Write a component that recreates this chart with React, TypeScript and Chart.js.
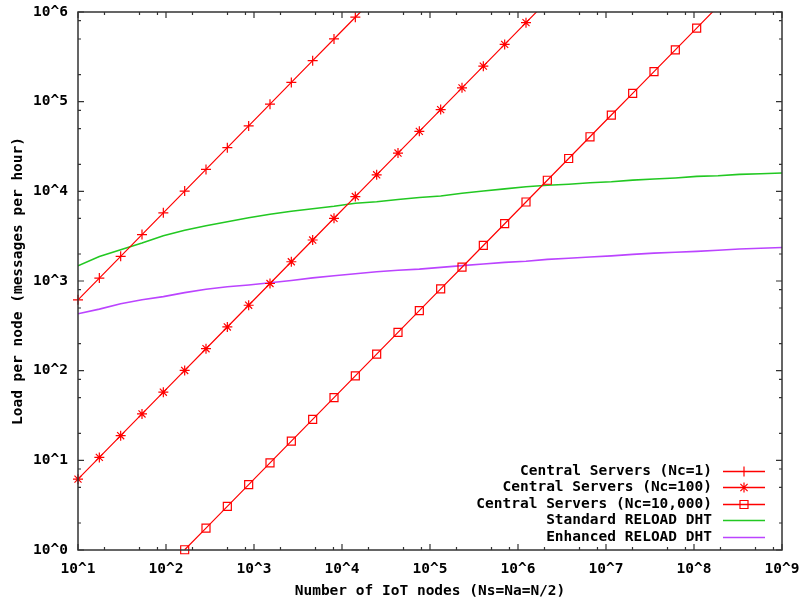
import React, { useEffect, useRef } from "react";
import { Chart, registerables } from "chart.js";

Chart.register(...registerables);

// Number of IoT nodes (sample positions along the x axis)
const nodes = [
  10, 17.48, 30.54, 53.37, 93.26, 163.0, 284.8, 497.7, 869.8, 1520, 2656, 4642,
  8111, 14175, 24771, 43288, 75646, 132194, 231013, 403702, 705480, 1232847,
  2154435, 3764936, 6579332, 11497570, 20092330, 35111917, 61359073,
  107226722, 187381742, 327454916, 572236766, 1000000000,
];

// Central Servers (Nc=1), points k = 0..14
const centralNc1 = [
  617, 1078, 1884, 3293, 5754, 10057, 17572, 30708, 53667, 93784, 163875,
  286411, 500449, 874598, 1528371,
];

// Central Servers (Nc=100), points k = 0..22
const centralNc100 = [
  6.17, 10.78, 18.84, 32.93, 57.54, 100.6, 175.7, 307.1, 536.7, 937.8, 1639,
  2864, 5004, 8746, 15284, 26709, 46674, 81564, 142535, 249084, 435281,
  760667, 1329286,
];

// Central Servers (Nc=10,000), points k = 5..30
const centralNc10000Start = 5;
const centralNc10000 = [
  1.006, 1.757, 3.071, 5.367, 9.378, 16.39, 28.64, 50.04, 87.46, 152.8, 267.1,
  466.7, 815.6, 1425, 2491, 4353, 7607, 13293, 23230, 40594, 70940, 123970,
  216641, 378585, 661589, 1156145,
];

// Standard RELOAD DHT, points k = 0..33
const standardDht = [
  1479, 1877, 2230, 2649, 3195, 3680, 4130, 4580, 5075, 5552, 5998, 6393, 6818,
  7365, 7656, 8100, 8551, 8886, 9524, 10080, 10640, 11250, 11670, 12000, 12470,
  12800, 13340, 13720, 14110, 14670, 14940, 15440, 15720, 16000,
];

// Enhanced RELOAD DHT, points k = 0..33
const enhancedDht = [
  430.5, 485.8, 556.6, 616.9, 669.8, 742.3, 809.9, 861.5, 902.3, 954.8, 1013,
  1083, 1143, 1203, 1267, 1320, 1358, 1418, 1485, 1548, 1613, 1663, 1743, 1797,
  1853, 1906, 1981, 2048, 2091, 2140, 2200, 2275, 2317, 2365,
];

const seriesLabels = [
  "Central Servers (Nc=1)",
  "Central Servers (Nc=100)",
  "Central Servers (Nc=10,000)",
  "Standard RELOAD DHT",
  "Enhanced RELOAD DHT",
];

const xTickValues = [1e1, 1e2, 1e3, 1e4, 1e5, 1e6, 1e7, 1e8, 1e9];
const xTickLabels = ["10^1", "10^2", "10^3", "10^4", "10^5", "10^6", "10^7", "10^8", "10^9"];
const yTickValues = [1e0, 1e1, 1e2, 1e3, 1e4, 1e5, 1e6];
const yTickLabels = ["10^0", "10^1", "10^2", "10^3", "10^4", "10^5", "10^6"];
const minorMultipliers = [2, 5, 8];

const xTitle = "Number of IoT nodes (Ns=Na=N/2)";
const yTitle = "Load per node (messages per hour)";

const FONT_FAMILY = '"DejaVu Sans Mono", "Liberation Mono", monospace';
const FONT_SIZE = 14.5;
const RED = "#ff0000";
const GREEN = "#22c822";
const PURPLE = "#bb44ff";
const BORDER = "#333333";

const toPoints = (ys: number[], start = 0) =>
  ys.map((y, i) => ({ x: nodes[i + start], y }));

function drawMarker(ctx: CanvasRenderingContext2D, style: string, x: number, y: number) {
  ctx.beginPath();
  if (style === "cross" || style === "star") {
    ctx.moveTo(x - 5, y);
    ctx.lineTo(x + 5, y);
    ctx.moveTo(x, y - 5);
    ctx.lineTo(x, y + 5);
  }
  if (style === "star") {
    const d = 3.6;
    ctx.moveTo(x - d, y - d);
    ctx.lineTo(x + d, y + d);
    ctx.moveTo(x - d, y + d);
    ctx.lineTo(x + d, y - d);
  }
  if (style === "rect") {
    ctx.rect(x - 4, y - 4, 8, 8);
  }
  ctx.stroke();
}

const framePlugin = {
  id: "gnuplotFrame",
  afterDraw(chart: any) {
    const { ctx, chartArea } = chart;
    const { left, right, top, bottom } = chartArea;
    const xs = chart.scales.x;
    const ys = chart.scales.y;
    ctx.save();
    ctx.strokeStyle = BORDER;
    ctx.lineWidth = 1.5;
    ctx.strokeRect(left, top, right - left, bottom - top);

    ctx.lineWidth = 1.2;
    ctx.beginPath();
    xTickValues.forEach((v) => {
      const px = xs.getPixelForValue(v);
      ctx.moveTo(px, bottom);
      ctx.lineTo(px, bottom - 6);
      ctx.moveTo(px, top);
      ctx.lineTo(px, top + 6);
      if (v < xTickValues[xTickValues.length - 1]) {
        minorMultipliers.forEach((m) => {
          const mp = xs.getPixelForValue(v * m);
          ctx.moveTo(mp, bottom);
          ctx.lineTo(mp, bottom - 3);
          ctx.moveTo(mp, top);
          ctx.lineTo(mp, top + 3);
        });
      }
    });
    yTickValues.forEach((v) => {
      const py = ys.getPixelForValue(v);
      ctx.moveTo(left, py);
      ctx.lineTo(left + 6, py);
      ctx.moveTo(right, py);
      ctx.lineTo(right - 6, py);
      if (v < yTickValues[yTickValues.length - 1]) {
        minorMultipliers.forEach((m) => {
          const mp = ys.getPixelForValue(v * m);
          ctx.moveTo(left, mp);
          ctx.lineTo(left + 3, mp);
          ctx.moveTo(right, mp);
          ctx.lineTo(right - 3, mp);
        });
      }
    });
    ctx.stroke();

    // legend (gnuplot style: text right-aligned, sample on the right)
    ctx.font = `bold ${FONT_SIZE}px ${FONT_FAMILY}`;
    ctx.textAlign = "right";
    ctx.textBaseline = "middle";
    const textRight = right - 70;
    const lineStart = right - 59;
    const lineEnd = right - 17;
    const y0 = bottom - 79.5;
    chart.data.datasets.forEach((ds: any, i: number) => {
      const y = Math.round(y0 + i * 16.5) + 0.5;
      ctx.fillStyle = "#000000";
      ctx.fillText(ds.label, textRight, y);
      ctx.strokeStyle = ds.borderColor;
      ctx.lineWidth = Math.max(ds.borderWidth, 1.3);
      ctx.beginPath();
      ctx.moveTo(lineStart, y);
      ctx.lineTo(lineEnd, y);
      ctx.stroke();
      if (ds.pointRadius > 0) {
        ctx.lineWidth = 1.2;
        ctx.strokeStyle = ds.borderColor;
        drawMarker(ctx, ds.pointStyle, (lineStart + lineEnd) / 2, y);
      }
    });
    ctx.restore();
  },
};

export default function App() {
  const canvasRef = useRef<HTMLCanvasElement | null>(null);

  useEffect(() => {
    if (!canvasRef.current) return;
    const redClip = { left: 8, top: 0, right: 0, bottom: 8 };
    const chart = new Chart(canvasRef.current, {
      type: "line",
      data: {
        datasets: [
          {
            label: seriesLabels[0],
            data: toPoints(centralNc1),
            borderColor: RED,
            borderWidth: 1.2,
            pointStyle: "cross",
            pointRadius: 5,
            pointBorderWidth: 1.2,
            pointBorderColor: RED,
            pointBackgroundColor: "transparent",
            clip: redClip as any,
          },
          {
            label: seriesLabels[1],
            data: toPoints(centralNc100),
            borderColor: RED,
            borderWidth: 1.2,
            pointStyle: "star",
            pointRadius: 5,
            pointBorderWidth: 1.2,
            pointBorderColor: RED,
            pointBackgroundColor: "transparent",
            clip: redClip as any,
          },
          {
            label: seriesLabels[2],
            data: toPoints(centralNc10000, centralNc10000Start),
            borderColor: RED,
            borderWidth: 1.2,
            pointStyle: "rect",
            pointRadius: 5.66,
            pointBorderWidth: 1.2,
            pointBorderColor: RED,
            pointBackgroundColor: "transparent",
            clip: redClip as any,
          },
          {
            label: seriesLabels[3],
            data: toPoints(standardDht),
            borderColor: GREEN,
            borderWidth: 1.6,
            pointRadius: 0,
          },
          {
            label: seriesLabels[4],
            data: toPoints(enhancedDht),
            borderColor: PURPLE,
            borderWidth: 1.6,
            pointRadius: 0,
          },
        ],
      },
      options: {
        responsive: false,
        animation: false,
        devicePixelRatio: 1,
        layout: { padding: { left: 0, right: 19, top: 12, bottom: 0 } },
        plugins: {
          legend: { display: false },
          tooltip: { enabled: false },
        },
        elements: { line: { tension: 0 } },
        scales: {
          x: {
            type: "logarithmic",
            min: 1e1,
            max: 1e9,
            grid: { display: false, drawTicks: false, tickLength: 0 },
            border: { display: false },
            afterBuildTicks: (scale: any) => {
              scale.ticks = xTickValues.map((v) => ({ value: v }));
            },
            afterFit: (scale: any) => {
              scale.height = 53;
              scale.paddingLeft = 0;
              scale.paddingRight = 0;
            },
            ticks: {
              autoSkip: false,
              maxRotation: 0,
              minRotation: 0,
              padding: 11,
              color: "#000000",
              font: { family: FONT_FAMILY, size: FONT_SIZE, weight: "bold" },
              callback: (value: any) => {
                const i = xTickValues.indexOf(Number(value));
                return i >= 0 ? xTickLabels[i] : "";
              },
            },
            title: {
              display: true,
              text: xTitle,
              color: "#000000",
              font: { family: FONT_FAMILY, size: FONT_SIZE, weight: "bold", lineHeight: 1 },
              padding: { top: 0, bottom: 4.5 },
            },
          },
          y: {
            type: "logarithmic",
            min: 1e0,
            max: 1e6,
            grid: { display: false, drawTicks: false, tickLength: 0 },
            border: { display: false },
            afterBuildTicks: (scale: any) => {
              scale.ticks = yTickValues.map((v) => ({ value: v }));
            },
            afterFit: (scale: any) => {
              scale.width = 78;
              scale.paddingTop = 0;
              scale.paddingBottom = 0;
            },
            ticks: {
              autoSkip: false,
              padding: 10,
              color: "#000000",
              font: { family: FONT_FAMILY, size: FONT_SIZE, weight: "bold" },
              callback: (value: any) => {
                const i = yTickValues.indexOf(Number(value));
                return i >= 0 ? yTickLabels[i] : "";
              },
            },
            title: {
              display: true,
              text: yTitle,
              color: "#000000",
              font: { family: FONT_FAMILY, size: FONT_SIZE, weight: "bold", lineHeight: 1 },
              padding: { top: 11, bottom: 0 },
            },
          },
        },
      },
      plugins: [framePlugin],
    } as any);
    return () => chart.destroy();
  }, []);

  return (
    <div style={{ position: "absolute", left: 0, top: 0, width: 801, height: 603, background: "#ffffff" }}>
      <canvas ref={canvasRef} width={801} height={603} style={{ display: "block" }} />
    </div>
  );
}
